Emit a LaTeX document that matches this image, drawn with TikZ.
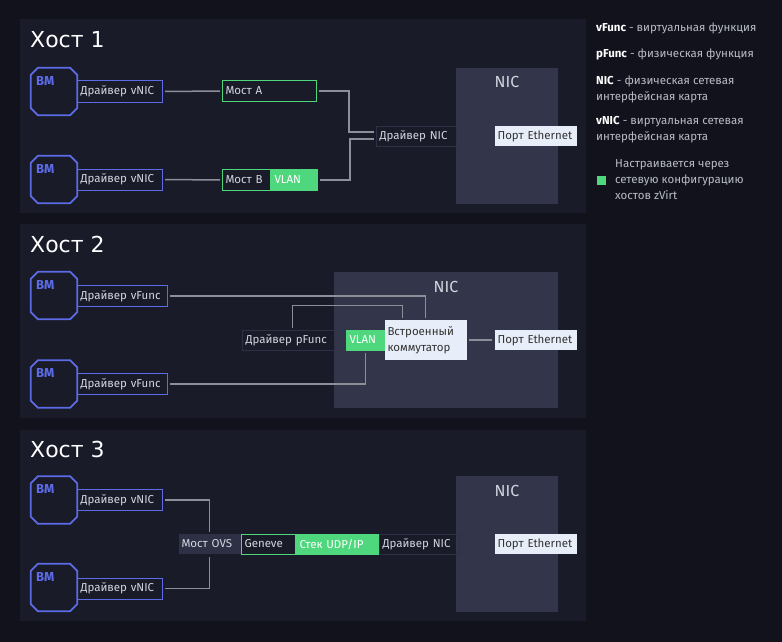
\documentclass[tikz,border=0pt]{standalone}
\usepackage{fontspec}
\setmainfont{Fira Sans}
\newfontfamily\hostfont{DejaVu Sans}
\definecolor{bg}{HTML}{11121C}
\definecolor{panel}{HTML}{191B29}
\definecolor{nicbg}{HTML}{33354B}
\definecolor{vmblue}{HTML}{5B6CE6}
\definecolor{vgreen}{HTML}{4FD77E}
\definecolor{wire}{HTML}{8C8E9A}
\definecolor{dark}{HTML}{2E3146}
\definecolor{light}{HTML}{E8EEF9}
\definecolor{txt}{HTML}{D3D6DE}
\definecolor{legtxt}{HTML}{B9BCC6}
\begin{document}
\begin{tikzpicture}[x=1pt,y=-1pt,
  font=\fontsize{11.5}{13}\selectfont,
  box/.style={rectangle, inner xsep=3pt, inner ysep=0pt, minimum height=21pt,
    text width=#1, align=left, anchor=west, text=txt, line width=1pt},
  drv/.style={box=#1, draw=vmblue},
  dbox/.style={box=#1, draw=dark},
  gbox/.style={box=#1, draw=vgreen},
  gfill/.style={box=#1, draw=vgreen, fill=vgreen, text=white},
  pbox/.style={box=#1, fill=light, text=black!80},
  vm/.style={rectangle, minimum width=46pt, minimum height=47pt, inner sep=0pt},
  vmline/.style={draw=vmblue, line width=1.7pt},
  vmlbl/.style={anchor=west, text=vmblue, font=\fontsize{13}{14}\selectfont\bfseries, inner sep=0pt},
  wire/.style={draw=wire, line width=1.5pt, shorten <=2pt, shorten >=2pt},
  host/.style={anchor=base west, text=white, font=\hostfont\fontsize{22}{26}\selectfont, inner sep=0pt},
  niclbl/.style={text=txt, font=\fontsize{16}{18}\selectfont, inner sep=0pt},
  leg/.style={anchor=west, align=left, text=legtxt, inner sep=0pt, font=\fontsize{11.5}{16}\selectfont}]
\useasboundingbox (0,0) rectangle (782,642);
\fill[bg] (0,0) rectangle (782,642);
\fill[panel] (20,19) rectangle (586,213);
\fill[panel] (20,224) rectangle (586,418);
\fill[panel] (20,430) rectangle (586,621);
\fill[nicbg] (456,68) rectangle (558,204);
\fill[nicbg] (334,272) rectangle (558,408);
\fill[nicbg] (456,476) rectangle (558,612);

% Host 1
\node[host] (t1) at (30,48) {Хост 1};
\node[niclbl] (n1) at (507,82) {NIC};
\node[vm] (vm11) at (54,91.5) {};
\node[vmlbl] (l11) at (36,81) {ВМ};
\node[drv=79pt] (d11) at (77,91.5) {Драйвер~vNIC};
\node[vm] (vm12) at (54,179.5) {};
\node[vmlbl] (l12) at (36,169) {ВМ};
\node[drv=79pt] (d12) at (77,179.5) {Драйвер~vNIC};
\node[gbox=88pt] (ma) at (222,91) {Мост~A};
\node[gbox=42pt] (mb) at (222,180) {Мост~B};
\node[gfill=40pt] (vl1) at (mb.east) {VLAN};
\node[dbox=74pt, minimum height=20pt] (dn1) at (376,136) {Драйвер~NIC};
\node[pbox=76pt, minimum height=20pt] (pe1) at (494,136) {Порт~Ethernet};
\draw[wire] (d11.east) -- (ma.west);
\draw[wire] (d12.east) -- (mb.west);
\draw[wire] (ma.east) -- ++(32,0) |- ([yshift=4pt]dn1.west);
\draw[wire] (vl1.east) -- ++(32,0) |- ([yshift=-3pt]dn1.west);

% Host 2
\node[host] (t2) at (30,252) {Хост 2};
\node[niclbl] (n2) at (446,287) {NIC};
\node[vm] (vm21) at (54,295.5) {};
\node[vmlbl] (l21) at (36,285) {ВМ};
\node[drv=84pt] (f1) at (77,296) {Драйвер~vFunc};
\node[vm] (vm22) at (54,384) {};
\node[vmlbl] (l22) at (36,373) {ВМ};
\node[drv=84pt] (f2) at (77,384) {Драйвер~vFunc};
\node[dbox=86pt, minimum height=20pt] (pf) at (242,340) {Драйвер~pFunc};
\node[gfill=32pt, minimum height=20pt] (vl2) at (346,340) {VLAN};
\node[pbox=76pt, minimum height=40pt, font=\fontsize{11.5}{16}\selectfont] (sw) at (384,340) {Встроенный\\коммутатор};
\node[pbox=76pt, minimum height=20pt] (pe2) at (494,340) {Порт~Ethernet};
\draw[wire] (f1.east) -| (sw.north);
\draw[wire] ([xshift=4pt]pf.north) -- ++(0,-24) -| ([xshift=-23pt]sw.north);
\draw[wire] (f2.east) -| (vl2.south);
\draw[wire] (sw.east) -- (pe2.west);

% Host 3
\node[host] (t3) at (30,457) {Хост 3};
\node[niclbl] (n3) at (507,491) {NIC};
\node[vm] (vm31) at (54,500) {};
\node[vmlbl] (l31) at (36,489) {ВМ};
\node[drv=79pt] (d31) at (77,500) {Драйвер~vNIC};
\node[vm] (vm32) at (54,587.5) {};
\node[vmlbl] (l32) at (36,577) {ВМ};
\node[drv=79pt] (d32) at (77,588.5) {Драйвер~vNIC};
\node[box=56pt, fill=dark, minimum height=20pt] (ovs) at (178,544) {Мост~OVS};
\node[gbox=48pt, minimum height=20pt] (gen) at (ovs.east) {Geneve};
\node[gfill=76pt, minimum height=20pt] (udp) at (gen.east) {Стек~UDP/IP};
\node[dbox=74pt, minimum height=20pt] (dn3) at (udp.east) {Драйвер~NIC};
\node[pbox=76pt, minimum height=20pt] (pe3) at (494,544) {Порт~Ethernet};
\draw[wire] (d31.east) -| (ovs.north);
\draw[wire] (d32.east) -| (ovs.south);

% VM outlines
\foreach \v in {vm11,vm12,vm21,vm22,vm31,vm32}
  \draw[vmline] ([xshift=7pt]\v.north west) -- ([xshift=-7pt]\v.north east)
    -- ([yshift=-7pt]\v.north east) -- ([yshift=7pt]\v.south east)
    -- ([xshift=-7pt]\v.south east) -- ([xshift=7pt]\v.south west)
    -- ([yshift=7pt]\v.south west) -- ([yshift=-7pt]\v.north west) -- cycle;

% legend
\node[leg] (g1) at (596,28) {\textcolor{white}{\bfseries vFunc} - виртуальная функция};
\node[leg] (g2) at (596,54) {\textcolor{white}{\bfseries pFunc} - физическая функция};
\node[leg] (g3) at (596,89) {\textcolor{white}{\bfseries NIC} - физическая сетевая\\интерфейсная карта};
\node[leg] (g4) at (596,130) {\textcolor{white}{\bfseries vNIC} - виртуальная сетевая\\интерфейсная карта};
\node[fill=vgreen, minimum size=9pt, inner sep=0pt] (gsq) at (601,180) {};
\node[leg] (g5) at (615,180) {Настраивается через\\сетевую конфигурацию\\хостов zVirt};
\end{tikzpicture}
\end{document}
